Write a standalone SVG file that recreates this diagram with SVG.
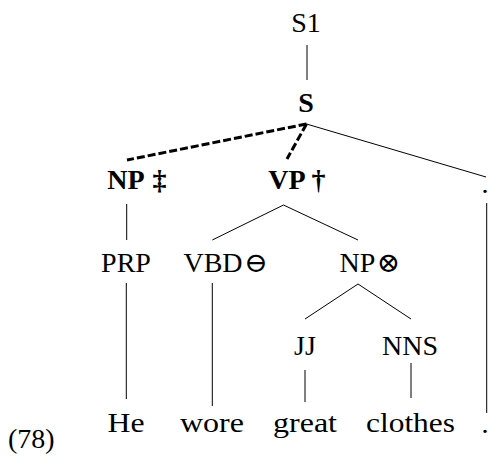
<svg xmlns="http://www.w3.org/2000/svg" width="488" height="456" viewBox="0 0 488 456">
  <style>
    .c { text-anchor: middle; }
    .b { font-weight: bold; }
    .edge { stroke: #000; stroke-width: 1; fill: none; }
    .dash { stroke: #000; stroke-width: 3; stroke-dasharray: 8 3; fill: none; }
  </style>
  <rect width="488" height="456" fill="#fff"/>

  <g id="connectors">
    <line class="edge" x1="307" y1="45" x2="307" y2="80"/>
    <line class="dash" x1="306.5" y1="124" x2="127" y2="160"/>
    <line class="dash" x1="306.5" y1="124" x2="287" y2="159"/>
    <line class="edge" x1="306.5" y1="124" x2="486" y2="177"/>
    <line class="edge" x1="126.7" y1="204" x2="126.7" y2="240"/>
    <line class="edge" x1="283.5" y1="205" x2="212.3" y2="240"/>
    <line class="edge" x1="283.5" y1="205" x2="358" y2="240"/>
    <line class="edge" x1="126.3" y1="283" x2="126.3" y2="399"/>
    <line class="edge" x1="212.3" y1="283" x2="212.3" y2="406"/>
    <line class="edge" x1="358" y1="284" x2="305" y2="319"/>
    <line class="edge" x1="358" y1="284" x2="411" y2="319"/>
    <line class="edge" x1="305" y1="370" x2="305" y2="402"/>
    <line class="edge" x1="411" y1="363" x2="411" y2="398"/>
    <line class="edge" x1="486.7" y1="203" x2="486.7" y2="413"/>
  </g>

  <g font-family="Liberation Serif, DejaVu Serif, serif" font-size="28" fill="#000">
    <g id="n-S1"><text class="c" x="306" y="32">S1</text></g>
    <g id="n-S"><text class="c b" x="306" y="112">S</text></g>
    <g id="n-NP"><text class="c b" x="126" y="189">NP</text><text class="c b" x="159.5" y="189">‡</text></g>
    <g id="n-VP"><text class="c b" x="287" y="189">VP</text><text class="c b" x="318.5" y="189">†</text></g>
    <g id="n-punct"><text class="c" x="485" y="193">.</text></g>
    <g id="n-PRP"><text class="c" x="126" y="272">PRP</text></g>
    <g id="n-VBD"><text class="c" x="213" y="272">VBD</text><text class="c" x="256" y="272">⊖</text></g>
    <g id="n-NP2"><text class="c" x="357.5" y="272">NP</text><text class="c" x="388.5" y="272">⊗</text></g>
    <g id="n-JJ"><text class="c" x="305" y="355">JJ</text></g>
    <g id="n-NNS"><text class="c" x="410" y="355">NNS</text></g>
    <g id="w-He"><text class="c" x="126" y="432" textLength="37" lengthAdjust="spacingAndGlyphs">He</text></g>
    <g id="w-wore"><text class="c" x="212" y="432" textLength="64" lengthAdjust="spacingAndGlyphs">wore</text></g>
    <g id="w-great"><text class="c" x="305" y="432" textLength="64" lengthAdjust="spacingAndGlyphs">great</text></g>
    <g id="w-clothes"><text class="c" x="410.5" y="432" textLength="89" lengthAdjust="spacingAndGlyphs">clothes</text></g>
    <g id="w-punct"><text class="c" x="485" y="433">.</text></g>
    <g id="ex-num"><text x="8" y="447.5">(78)</text></g>
  </g>
</svg>
